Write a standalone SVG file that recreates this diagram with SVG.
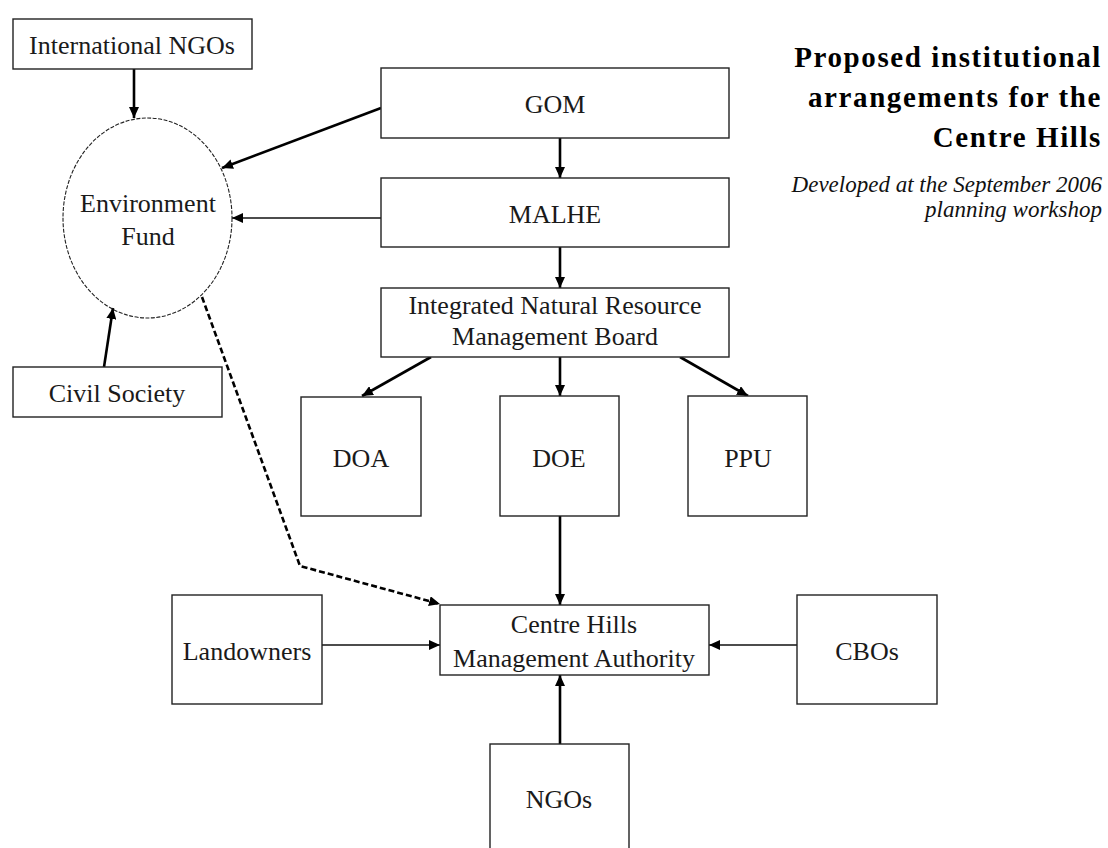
<svg xmlns="http://www.w3.org/2000/svg" width="1108" height="848" viewBox="0 0 1108 848">
<style>
.box{fill:#fff;stroke:#222;stroke-width:1.4}
.t{font-family:"Liberation Serif","Times New Roman",serif;font-size:26px;fill:#1a1a1a;text-anchor:middle}
.thick{stroke:#000;stroke-width:2.6;fill:none}
.thin{stroke:#111;stroke-width:1.4;fill:none}
.dash{stroke:#000;stroke-width:2.6;fill:none;stroke-dasharray:6,3}
.title{font-family:"Liberation Serif","Times New Roman",serif;font-size:29px;font-weight:bold;fill:#000;text-anchor:end;letter-spacing:1.6px}
.sub{font-family:"Liberation Serif","Times New Roman",serif;font-size:23px;font-style:italic;fill:#111;text-anchor:end}
</style>
<defs>
<marker id="ah" markerUnits="userSpaceOnUse" markerWidth="12" markerHeight="10" refX="11" refY="5" orient="auto">
<path d="M0,0 L11,5 L0,10 z" fill="#000"/>
</marker>
</defs>
<rect width="1108" height="848" fill="#fff"/>

<g id="title">
<text class="title" x="1102" y="67">Proposed institutional</text>
<text class="title" x="1102" y="107">arrangements for the</text>
<text class="title" x="1102" y="147">Centre Hills</text>
<text class="sub" x="1102" y="192">Developed at the September 2006</text>
<text class="sub" x="1102" y="217">planning workshop</text>
</g>

<g id="connectors">
<line class="thick" x1="134" y1="69" x2="134" y2="118" marker-end="url(#ah)"/>
<line class="thick" x1="381" y1="108" x2="222" y2="168" marker-end="url(#ah)"/>
<line class="thin" x1="381" y1="218" x2="232" y2="218" marker-end="url(#ah)"/>
<line class="thick" x1="104" y1="367" x2="113" y2="308" marker-end="url(#ah)"/>
<line class="thick" x1="560" y1="138" x2="560" y2="178" marker-end="url(#ah)"/>
<line class="thick" x1="560" y1="247" x2="560" y2="288" marker-end="url(#ah)"/>
<line class="thick" x1="431" y1="357" x2="362" y2="396" marker-end="url(#ah)"/>
<line class="thick" x1="560" y1="357" x2="560" y2="396" marker-end="url(#ah)"/>
<line class="thick" x1="680" y1="357" x2="748" y2="396" marker-end="url(#ah)"/>
<line class="thick" x1="560" y1="516" x2="560" y2="605" marker-end="url(#ah)"/>
<polyline class="dash" points="202,297 300,566 440,604" marker-end="url(#ah)"/>
<line class="thin" x1="322" y1="645" x2="440" y2="645" marker-end="url(#ah)"/>
<line class="thin" x1="797" y1="645" x2="709" y2="645" marker-end="url(#ah)"/>
<line class="thick" x1="560" y1="744" x2="560" y2="675" marker-end="url(#ah)"/>
</g>

<g id="intl-ngos">
<rect class="box" x="13" y="19" width="239" height="50"/>
<text class="t" x="132" y="54">International NGOs</text>
</g>
<g id="env-fund">
<ellipse cx="147.5" cy="218" rx="84.5" ry="100" fill="none" stroke="#222" stroke-width="1.1" stroke-dasharray="4,1.5"/>
<text class="t" x="148" y="212">Environment</text>
<text class="t" x="148" y="245">Fund</text>
</g>
<g id="civil-society">
<rect class="box" x="13" y="367" width="209" height="50"/>
<text class="t" x="117" y="402">Civil Society</text>
</g>
<g id="gom">
<rect class="box" x="381" y="68" width="348" height="70"/>
<text class="t" x="555" y="113">GOM</text>
</g>
<g id="malhe">
<rect class="box" x="381" y="178" width="348" height="69"/>
<text class="t" x="555" y="223">MALHE</text>
</g>
<g id="inrmb">
<rect class="box" x="381" y="288" width="348" height="69"/>
<text class="t" x="555" y="314">Integrated Natural Resource</text>
<text class="t" x="555" y="345">Management Board</text>
</g>
<g id="doa">
<rect class="box" x="301" y="397" width="120" height="119"/>
<text class="t" x="361" y="467">DOA</text>
</g>
<g id="doe">
<rect class="box" x="500" y="396" width="119" height="120"/>
<text class="t" x="559" y="467">DOE</text>
</g>
<g id="ppu">
<rect class="box" x="688" y="396" width="119" height="120"/>
<text class="t" x="748" y="467">PPU</text>
</g>
<g id="chma">
<rect class="box" x="440" y="605" width="269" height="70"/>
<text class="t" x="574" y="633">Centre Hills</text>
<text class="t" x="574" y="667">Management Authority</text>
</g>
<g id="landowners">
<rect class="box" x="172" y="595" width="150" height="109"/>
<text class="t" x="247" y="660">Landowners</text>
</g>
<g id="cbos">
<rect class="box" x="797" y="595" width="140" height="109"/>
<text class="t" x="867" y="660">CBOs</text>
</g>
<g id="ngos">
<rect class="box" x="490" y="744" width="139" height="120"/>
<text class="t" x="559" y="808">NGOs</text>
</g>
</svg>
